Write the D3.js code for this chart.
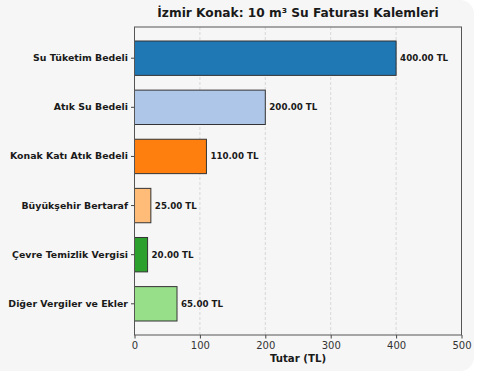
<!DOCTYPE html>
<html>
<head>
<meta charset="utf-8">
<script src="https://cdn.jsdelivr.net/npm/d3@7"></script>
<style>
  html, body { margin: 0; padding: 0; background: #ffffff; }
  svg { display: block; font-family: "DejaVu Sans", sans-serif; }
</style>
</head>
<body>
<svg id="chart" width="480" height="372"></svg>
<script>
// veriler
const categories = ["Su Tüketim Bedeli", "Atık Su Bedeli", "Konak Katı Atık Bedeli",
  "Büyükşehir Bertaraf", "Çevre Temizlik Vergisi", "Diğer Vergiler ve Ekler"];
const values = [400, 200, 110, 25, 20, 65];
const colors = ["#1f77b4", "#aec7e8", "#ff7f0e", "#ffbb78", "#2ca02c", "#98df8a"];
const xTicks = [0, 100, 200, 300, 400, 500];

const title = "İzmir Konak: 10 m³ Su Faturası Kalemleri";
const xLabel = "Tutar (TL)";

const width = 480, height = 372;
const margin = {left: 134.5, right: 18.5, top: 27, bottom: 37};

const svg = d3.select("#chart");

// arka plan
svg.append("rect")
  .attr("x", -20).attr("y", 0)
  .attr("width", 494).attr("height", 371)
  .attr("rx", 14)
  .attr("fill", "#f6f6f6");

const x = d3.scaleLinear()
  .domain([0, 500])
  .range([margin.left, width - margin.right]);

const y = d3.scaleBand()
  .domain(categories)
  .range([margin.top, height - margin.bottom])
  .paddingInner(0.3)
  .paddingOuter(0.285);

const g = svg.append("g");

// grid
g.selectAll("line.grid")
  .data(xTicks.slice(1, -1))
  .enter()
  .append("line")
  .attr("class", "grid")
  .attr("x1", d => x(d)).attr("x2", d => x(d))
  .attr("y1", margin.top).attr("y2", height - margin.bottom)
  .attr("stroke", "#d0d0d0")
  .attr("stroke-width", 0.8)
  .attr("stroke-dasharray", "3,2");

// barlar
g.selectAll("rect.bar")
  .data(values)
  .enter()
  .append("rect")
  .attr("class", "bar")
  .attr("x", x(0))
  .attr("y", (d, i) => y(categories[i]))
  .attr("width", d => x(d) - x(0))
  .attr("height", y.bandwidth())
  .attr("fill", (d, i) => colors[i])
  .attr("stroke", "#333")
  .attr("stroke-width", 1);

// değer etiketleri
g.selectAll("text.val")
  .data(values)
  .enter()
  .append("text")
  .attr("class", "val")
  .attr("x", d => x(d) + 4)
  .attr("y", (d, i) => y(categories[i]) + y.bandwidth() / 2)
  .attr("dy", "0.35em")
  .attr("font-size", "8.7px")
  .attr("font-weight", "bold")
  .attr("fill", "#1a1a1a")
  .text(d => d.toFixed(2) + " TL");

// eksenler
const xAxis = d3.axisBottom(x).tickValues(xTicks).tickSize(3.5).tickPadding(3);
const gx = svg.append("g")
  .attr("transform", `translate(0,${height - margin.bottom})`)
  .call(xAxis);
gx.select(".domain").remove();
gx.selectAll("line").attr("stroke", "#444");
gx.selectAll("text").attr("font-size", "10px").attr("fill", "#333")
  .attr("font-family", "DejaVu Sans");

const yAxis = d3.axisLeft(y).tickSize(3.5).tickPadding(3);
const gy = svg.append("g")
  .attr("transform", `translate(${margin.left},0)`)
  .call(yAxis);
gy.select(".domain").remove();
gy.selectAll("line").attr("stroke", "#444");
gy.selectAll("text").attr("font-size", "9.4px").attr("font-weight", "bold")
  .attr("fill", "#1a1a1a").attr("font-family", "DejaVu Sans");

// çerçeve
svg.append("rect")
  .attr("x", margin.left).attr("y", margin.top)
  .attr("width", width - margin.left - margin.right)
  .attr("height", height - margin.top - margin.bottom)
  .attr("fill", "none")
  .attr("stroke", "#555")
  .attr("stroke-width", 1);

// başlık
svg.append("text")
  .attr("x", (margin.left + width - margin.right) / 2)
  .attr("y", 16.5)
  .attr("text-anchor", "middle")
  .attr("font-size", "12.2px")
  .attr("font-weight", "bold")
  .attr("fill", "#1a1a1a")
  .text(title);

svg.append("text")
  .attr("x", (margin.left + width - margin.right) / 2)
  .attr("y", 362)
  .attr("text-anchor", "middle")
  .attr("font-size", "10.2px")
  .attr("font-weight", "bold")
  .attr("fill", "#1a1a1a")
  .text(xLabel);
</script>
</body>
</html>
